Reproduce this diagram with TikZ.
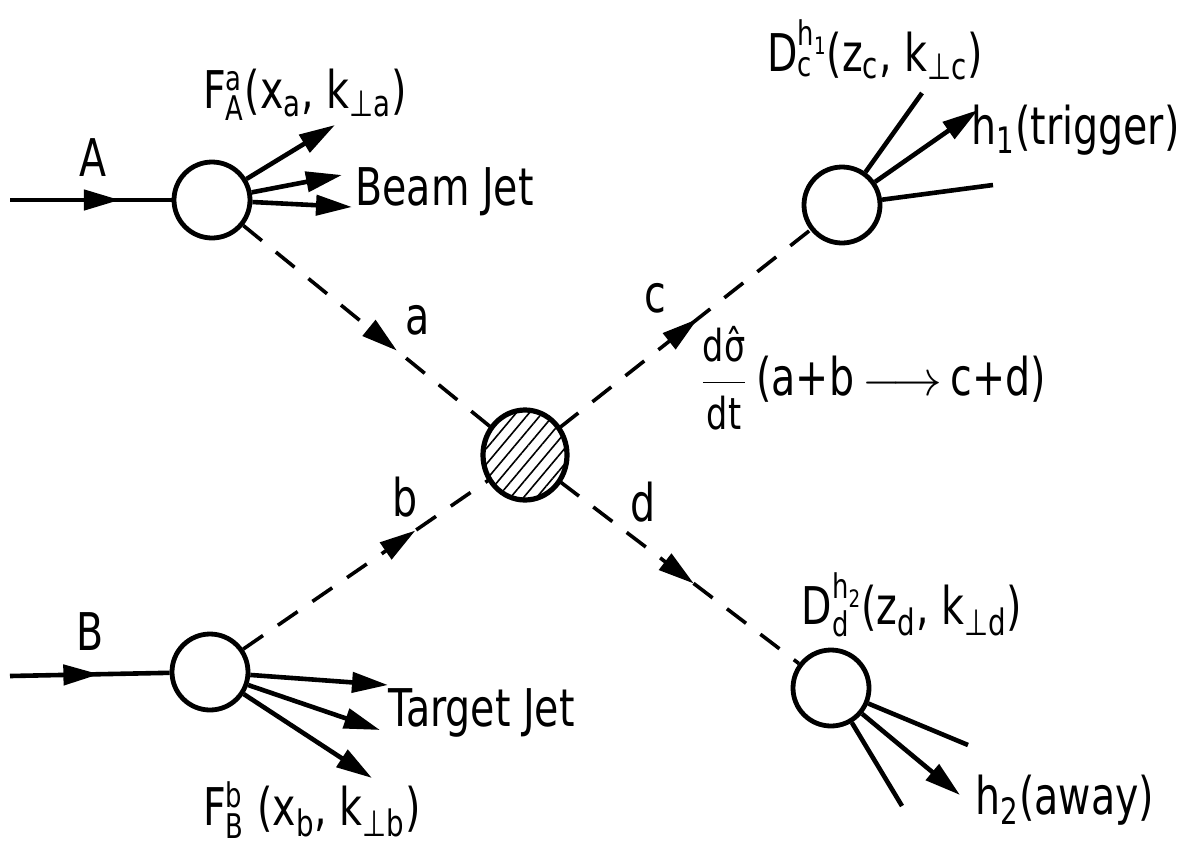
\documentclass[tikz,border=0pt]{standalone}
\usepackage{fontspec}
\setmainfont[FakeStretch=0.76]{DejaVu Sans}
\usetikzlibrary{arrows.meta,decorations.markings,patterns.meta,shapes.geometric}
\newcommand\bigfnt{\fontsize{26}{30}\selectfont}
\newcommand\midfnt{\fontsize{22}{26}\selectfont}
\newcommand\smallfnt{\fontsize{17}{17}\selectfont}
\newcommand\tinyfnt{\fontsize{12}{12}\selectfont}
\newcommand\sfx[2]{$^{\mbox{\smallfnt #1}}_{\mbox{\smallfnt #2}}$}
\tikzset{
  lbl/.style={inner sep=0pt, font=\bigfnt},
  ringc/.style={circle, draw, line width=2.4pt, minimum size=38pt, inner sep=0pt},
  hub/.style={ellipse, draw, line width=2.6pt, minimum width=42pt, minimum height=45pt, inner sep=0pt,
     pattern={Lines[angle=50,distance=5pt,line width=0.8pt]}},
  solidln/.style={line width=2.3pt},
  dashln/.style={line width=1.8pt, dash pattern=on 12pt off 9pt},
  endarr/.style={-{Triangle[length=18pt,width=10pt]}},
  midarr/.style={postaction={decorate},
     decoration={markings, mark=at position #1 with {\arrow{Triangle[length=18pt,width=10pt]}}}}
}
\begin{document}
\begin{tikzpicture}[x=0.5pt,y=-0.5pt]
\useasboundingbox (0,0) rectangle (1188,857);
% blobs
\node[ringc] (A) at (212,200) {};
\node[ringc] (B) at (210,672) {};
\node[ringc] (C) at (842,205) {};
\node[ringc] (D) at (831,688) {};
\node[hub] (X) at (525,455) {};
% free ends
\coordinate (Ain) at (10,200);
\coordinate (Bin) at (10,676);
\coordinate (a1) at (335,125);
\coordinate (a2) at (342,175);
\coordinate (a3) at (352,207);
\coordinate (b1) at (388,685);
\coordinate (b2) at (380,730);
\coordinate (b3) at (372,778);
\coordinate (c1) at (922,93);
\coordinate (c2) at (978,110);
\coordinate (c3) at (993,185);
\coordinate (d1) at (968,745);
\coordinate (d2) at (960,795);
\coordinate (d3) at (902,806);
% incoming
\draw[solidln, midarr=0.68] (Ain) -- (A);
\draw[solidln, midarr=0.56] (Bin) -- (B);
% beam jet
\draw[solidln, endarr] (A) -- (a1);
\draw[solidln, endarr] (A) -- (a2);
\draw[solidln, endarr] (A) -- (a3);
% target jet
\draw[solidln, endarr] (B) -- (b1);
\draw[solidln, endarr] (B) -- (b2);
\draw[solidln, endarr] (B) -- (b3);
% fragmentation c
\draw[solidln] (C) -- (c1);
\draw[solidln, endarr] (C) -- (c2);
\draw[solidln] (C) -- (c3);
% fragmentation d
\draw[solidln] (D) -- (d1);
\draw[solidln, endarr] (D) -- (d2);
\draw[solidln] (D) -- (d3);
% partons
\draw[dashln, midarr=0.62] (A) -- (X);
\draw[dashln, midarr=0.7] (B) -- (X);
\draw[dashln, midarr=0.55] (X) -- (C);
\draw[dashln, midarr=0.56] (X) -- (D);
% labels
\node[lbl] (lA) at (93,158) {A};
\node[lbl] (lB) at (90,632) {B};
\node[lbl] (la) at (418,320) {a};
\node[lbl] (lc) at (655,298) {c};
\node[lbl] (lb) at (405,497) {b};
\node[lbl] (ld) at (643,502) {d};
\node[lbl] (FA) at (305,95) {F\sfx{a}{A}(x\textsubscript{a}, k\textsubscript{⊥a})};
\node[lbl, anchor=west] (BJ) at (355,192) {Beam Jet};
\node[lbl, anchor=west] (TJ) at (388,713) {Target Jet};
\node[lbl] (FB) at (312,810) {F\sfx{b}{B} (x\textsubscript{b}, k\textsubscript{⊥b})};
\node[lbl] (DC) at (875,50) {D\sfx{h\raisebox{-0.25em}{\tinyfnt 1}}{c}(z\textsubscript{c}, k\textsubscript{⊥c})};
\node[lbl, anchor=east] (h1) at (1180,130) {h\textsubscript{1}(trigger)};
\node[lbl, anchor=west] (xs) at (700,378) {$\displaystyle\frac{\mbox{\midfnt d\^{σ}}}{\mbox{\midfnt dt}}$\,(a+b$\,\mathbf{\longrightarrow}\,$c+d)};
\node[lbl] (DD) at (912,605) {D\sfx{h\raisebox{-0.25em}{\tinyfnt 2}}{d}(z\textsubscript{d}, k\textsubscript{⊥d})};
\node[lbl, anchor=west] (h2) at (975,800) {h\textsubscript{2}(away)};
\end{tikzpicture}
\end{document}
